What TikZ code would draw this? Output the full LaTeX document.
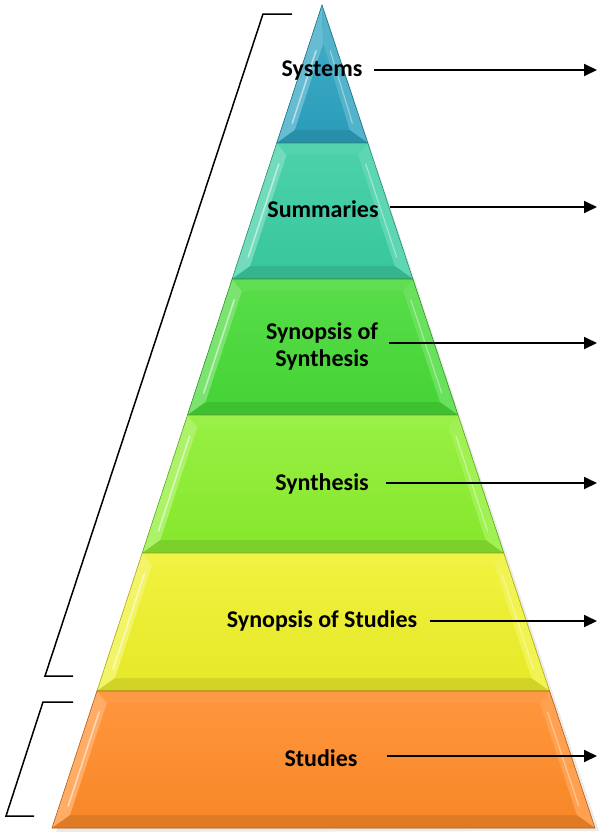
\documentclass[tikz,border=0pt]{standalone}
\usepackage{fontspec}
\setmainfont{Carlito}
\usetikzlibrary{arrows.meta,calc}
\definecolor{cSys}{HTML}{2CA2C0}
\definecolor{cSum}{HTML}{3BCDA2}
\definecolor{cSoS}{HTML}{48DA38}
\definecolor{cSyn}{HTML}{8CEE30}
\definecolor{cSSt}{HTML}{EEF02C}
\definecolor{cStu}{HTML}{FF8C2A}
\tikzset{
  lbl/.style={font=\fontsize{24}{27}\selectfont\bfseries, text=black, inner sep=3pt, align=center},
  arr/.style={line width=1.8pt, -{Triangle[length=13pt,width=12pt]}},
  bracket/.style={line width=1.5pt, black},
}
\begin{document}
\begin{tikzpicture}[x=1pt,y=-1pt]
\useasboundingbox (0,0) rectangle (600,833);
% shadow
\fill[black!8] (324,9) -- (599,831) -- (56,832) -- cycle;
% layers
\foreach \yt/\yb/\col in {5/143/cSys,143/279/cSum,279/415/cSoS,415/553/cSyn,553/691/cSSt,691/828/cStu}{
  \pgfmathsetmacro\lt{322-(\yt-5)/823*270}
  \pgfmathsetmacro\rt{322+(\yt-5)/823*273}
  \pgfmathsetmacro\lb{322-(\yb-5)/823*270}
  \pgfmathsetmacro\rb{322+(\yb-5)/823*273}
  \pgfmathsetmacro\iyt{max(\yt+12,44)}
  \pgfmathsetmacro\iyb{\yb-13}
  \pgfmathsetmacro\ilt{322-(\iyt-5)/823*270+14}
  \pgfmathsetmacro\irt{max(322+(\iyt-5)/823*273-14,\ilt)}
  \pgfmathsetmacro\ilb{322-(\iyb-5)/823*270+14}
  \pgfmathsetmacro\irb{322+(\iyb-5)/823*273-14}
  % base
  \fill[\col] (\lt,\yt) -- (\rt,\yt) -- (\rb,\yb) -- (\lb,\yb) -- cycle;
  % facets
  \fill[\col!72!white] (\lt,\yt) -- (\ilt,\iyt) -- (\ilb,\iyb) -- (\lb,\yb) -- cycle;
  \fill[\col!88!white] (\lt,\yt) -- (\rt,\yt) -- (\irt,\iyt) -- (\ilt,\iyt) -- cycle;
  \fill[\col!82!white] (\rt,\yt) -- (\rb,\yb) -- (\irb,\iyb) -- (\irt,\iyt) -- cycle;
  \fill[\col!88!black] (\lb,\yb) -- (\ilb,\iyb) -- (\irb,\iyb) -- (\rb,\yb) -- cycle;
  % face
  \shade[top color=\col!92!white, bottom color=\col!97!black] (\ilt,\iyt) -- (\irt,\iyt) -- (\irb,\iyb) -- (\ilb,\iyb) -- cycle;
  % highlight streaks
  \draw[\col!35!white, line width=1.6pt, line cap=round]
    ($(\ilt,\iyt)!0.08!(\ilb,\iyb)+(-5,0)$) -- ($(\ilt,\iyt)!0.92!(\ilb,\iyb)+(-5,0)$);
  \draw[\col!50!white, line width=1.2pt, line cap=round]
    ($(\irt,\iyt)!0.08!(\irb,\iyb)+(5,0)$) -- ($(\irt,\iyt)!0.92!(\irb,\iyb)+(5,0)$);
  \draw[\col!70!black, line width=0.6pt] (\lt,\yt) -- (\rt,\yt) -- (\rb,\yb) -- (\lb,\yb) -- cycle;
}
% labels
\node[lbl] (tSys) at (322,71) {Systems};
\node[lbl] (tSum) at (323,209) {Summaries};
\node[lbl] (tSoS) at (322,346) {Synopsis of\\Synthesis};
\node[lbl] (tSyn) at (322,484) {Synthesis};
\node[lbl] (tSSt) at (322,621) {Synopsis of Studies};
\node[lbl] (tStu) at (321,758) {Studies};
% arrow ends
\coordinate (eSys) at (597,70);
\coordinate (eSum) at (597,207);
\coordinate (eSoS) at (597,343);
\coordinate (eSyn) at (597,483);
\coordinate (eSSt) at (597,621);
\coordinate (eStu) at (597,756);
\draw[arr] ([xshift=8pt]tSys.east |- eSys) -- (eSys);
\draw[arr] ([xshift=8pt]tSum.east |- eSum) -- (eSum);
\draw[arr] ([xshift=8pt]tSoS.east |- eSoS) -- (eSoS);
\draw[arr] ([xshift=14pt]tSyn.east |- eSyn) -- (eSyn);
\draw[arr] ([xshift=10pt]tSSt.east |- eSSt) -- (eSSt);
\draw[arr] ([xshift=26pt]tStu.east |- eStu) -- (eStu);
% brackets
\coordinate (b1a) at (292,14);
\coordinate (b1b) at (263,14);
\coordinate (b1c) at (45,676);
\coordinate (b1d) at (73,676);
\coordinate (b2a) at (73,702);
\coordinate (b2b) at (43,702);
\coordinate (b2c) at (6,816);
\coordinate (b2d) at (34,816);
\draw[bracket] (b1a) -- (b1b) -- (b1c) -- (b1d);
\draw[bracket] (b2a) -- (b2b) -- (b2c) -- (b2d);
\end{tikzpicture}
\end{document}
